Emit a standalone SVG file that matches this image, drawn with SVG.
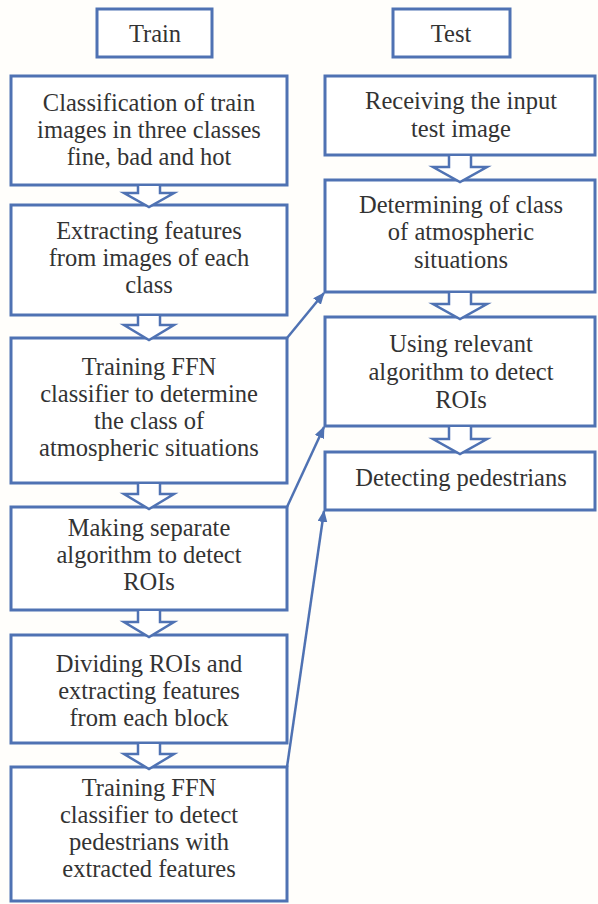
<svg xmlns="http://www.w3.org/2000/svg" width="598" height="904" viewBox="0 0 598 904">
<defs>
<style>
.box{fill:#fff;stroke:#4f72b3;stroke-width:3}
.blk{fill:#fff;stroke:#4f72b3;stroke-width:2.5;stroke-linejoin:miter}
.t{font-family:"Liberation Serif","Times New Roman",serif;font-size:24.5px;fill:#333;text-anchor:middle}
.con{stroke:#4f72b3;stroke-width:2.5;fill:none}
</style>
<marker id="ah" viewBox="0 0 12 10" refX="11" refY="5" markerWidth="12" markerHeight="10" markerUnits="userSpaceOnUse" orient="auto">
<path d="M0,0 L12,5 L0,10 Z" fill="#4f72b3"/>
</marker>
</defs>
<rect width="598" height="904" fill="#fffefb"/>
<g id="train-label"><rect class="box" x="97" y="9" width="115" height="48"/><text class="t" x="155" y="42">Train</text></g>
<g id="test-label"><rect class="box" x="393" y="9" width="117" height="48"/><text class="t" x="451" y="42">Test</text></g>

<g id="tr1"><rect class="box" x="11" y="76" width="276" height="109"/><text class="t" x="149"><tspan x="149" y="111">Classification of train</tspan><tspan x="149" y="138">images in three classes</tspan><tspan x="149" y="165">fine, bad and hot</tspan></text></g>
<g id="tr2"><rect class="box" x="11" y="205" width="276" height="110"/><text class="t" x="149"><tspan x="149" y="239">Extracting features</tspan><tspan x="149" y="266">from images of each</tspan><tspan x="149" y="293">class</tspan></text></g>
<g id="tr3"><rect class="box" x="11" y="338" width="276" height="145"/><text class="t" x="149"><tspan x="149" y="375">Training FFN</tspan><tspan x="149" y="402">classifier to determine</tspan><tspan x="149" y="429">the class of</tspan><tspan x="149" y="456">atmospheric situations</tspan></text></g>
<g id="tr4"><rect class="box" x="11" y="507" width="276" height="103"/><text class="t" x="149"><tspan x="149" y="536">Making separate</tspan><tspan x="149" y="563">algorithm to detect</tspan><tspan x="149" y="590">ROIs</tspan></text></g>
<g id="tr5"><rect class="box" x="11" y="635" width="276" height="108"/><text class="t" x="149"><tspan x="149" y="672">Dividing ROIs and</tspan><tspan x="149" y="699">extracting features</tspan><tspan x="149" y="726">from each block</tspan></text></g>
<g id="tr6"><rect class="box" x="11" y="767" width="276" height="134"/><text class="t" x="149"><tspan x="149" y="796">Training FFN</tspan><tspan x="149" y="823">classifier to detect</tspan><tspan x="149" y="850">pedestrians with</tspan><tspan x="149" y="877">extracted features</tspan></text></g>

<g id="te1"><rect class="box" x="325" y="76" width="270" height="79"/><text class="t" x="461"><tspan x="461" y="109">Receiving the input</tspan><tspan x="461" y="137">test image</tspan></text></g>
<g id="te2"><rect class="box" x="325" y="180" width="270" height="112"/><text class="t" x="461"><tspan x="461" y="213">Determining of class</tspan><tspan x="461" y="240">of atmospheric</tspan><tspan x="461" y="268">situations</tspan></text></g>
<g id="te3"><rect class="box" x="325" y="317" width="270" height="109"/><text class="t" x="461"><tspan x="461" y="352">Using relevant</tspan><tspan x="461" y="380">algorithm to detect</tspan><tspan x="461" y="408">ROIs</tspan></text></g>
<g id="te4"><rect class="box" x="325" y="452" width="270" height="58"/><text class="t" x="461" y="486">Detecting pedestrians</text></g>

<g id="connectors">
<path class="blk" d="M138,186 V193 H124 L149,207 L174,193 H160 V186"/>
<path class="blk" d="M138,316 V325 H124 L149,340 L174,325 H160 V316"/>
<path class="blk" d="M138,484 V494 H124 L149,509 L174,494 H160 V484"/>
<path class="blk" d="M138,611 V622 H124 L149,637 L174,622 H160 V611"/>
<path class="blk" d="M138,744 V754 H124 L149,769 L174,754 H160 V744"/>
<path class="blk" d="M449,156 V167 H433 L460,182 L487,167 H471 V156"/>
<path class="blk" d="M449,293 V304 H433 L460,319 L487,304 H471 V293"/>
<path class="blk" d="M449,427 V439 H433 L460,454 L487,439 H471 V427"/>
<line class="con" x1="287" y1="338" x2="324" y2="293" marker-end="url(#ah)"/>
<line class="con" x1="287" y1="507" x2="324" y2="427" marker-end="url(#ah)"/>
<line class="con" x1="287" y1="767" x2="324" y2="511" marker-end="url(#ah)"/>
</g>
</svg>
